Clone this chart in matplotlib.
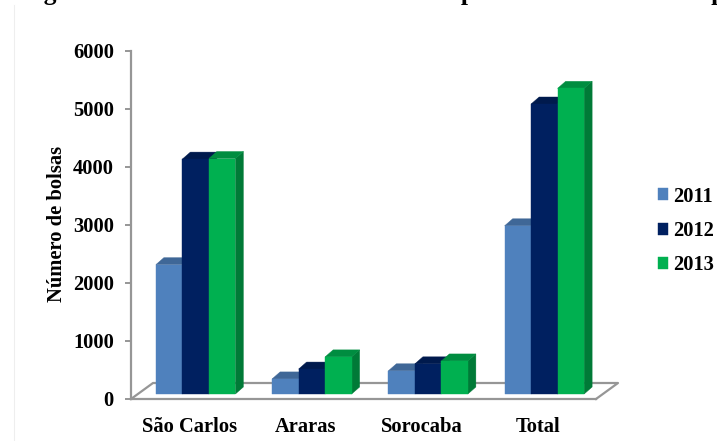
import numpy as np
import matplotlib
matplotlib.use("Agg")
import matplotlib.pyplot as plt
from matplotlib.patches import Polygon

# Bolsas por campus e ano
campus = ["São Carlos", "Araras", "Sorocaba", "Total"]
anos = ["2011", "2012", "2013"]
bolsas_2011 = [2230, 260, 400, 2900]
bolsas_2012 = [4050, 430, 520, 5000]
bolsas_2013 = [4060, 640, 570, 5270]
yticks = [0, 1000, 2000, 3000, 4000, 5000, 6000]

front = ["#4F81BD", "#002060", "#00B050"]
top = ["#3F6797", "#001A4D", "#008D40"]
side = ["#3F6797", "#001A4D", "#007A37"]
gray = "#969696"

W, H = 717, 441
plt.rcParams["font.family"] = ["Liberation Serif", "DejaVu Serif"]
plt.rcParams["font.weight"] = "bold"

fig = plt.figure(figsize=(W / 100, H / 100), dpi=100)
x0, x1, y0, y1 = 131, 596, 399, 51
ax = fig.add_axes([x0 / W, 1 - y0 / H, (x1 - x0) / W, (y0 - y1) / H])
ax.set_xlim(0, 4)
ax.set_ylim(0, 6000)

# pixel sizes expressed in data units
px = 4 / (x1 - x0)
py = 6000 / (y0 - y1)
bar_w = 26.5 * px
shift = 6.5 * px
base = 5 * py
dx, dy = 8 * px, 7 * py

# floor of the 3d box
floor_x, floor_y = 22 * px, 16 * py
ax.plot([0, floor_x, 4 + floor_x, 4], [0, floor_y, floor_y, 0], color=gray,
        lw=1.6, clip_on=False, zorder=1)

centers = np.arange(4) + 0.5
for j, vals in enumerate([bolsas_2011, bolsas_2012, bolsas_2013]):
    xs = centers + shift + (j - 1) * bar_w
    for x, v in zip(xs, vals):
        l, r, b, t = x - bar_w / 2, x + bar_w / 2, base, base + v
        ax.add_patch(Polygon([(r, b), (r + dx, b + dy), (r + dx, t + dy), (r, t)],
                             fc=side[j], ec=side[j], lw=0.3, zorder=2 + j))
        ax.add_patch(Polygon([(l, t), (l + dx, t + dy), (r + dx, t + dy), (r, t)],
                             fc=top[j], ec=top[j], lw=0.3, zorder=2 + j))
    ax.bar(xs, vals, bar_w, bottom=base, color=front[j], edgecolor=front[j], lw=0.3,
           label=anos[j], zorder=2 + j)

for s in ["top", "right"]:
    ax.spines[s].set_visible(False)
for s in ["left", "bottom"]:
    ax.spines[s].set_color(gray)
    ax.spines[s].set_linewidth(1.6)

ax.set_yticks(yticks)
ax.set_xticks(centers)
ax.set_xticklabels(campus, fontsize=14.8)
ax.tick_params(axis="x", length=0, pad=13)
ax.tick_params(axis="y", length=4.3, width=1.4, color=gray, pad=8, labelsize=14.8)
ax.set_ylabel("Número de bolsas", fontsize=14.8, fontweight="bold")
ax.yaxis.set_label_coords((67 - x0) / (x1 - x0), 0.504)

fig.legend(loc="center left", bbox_to_anchor=(658 / W, 1 - 231 / H), frameon=False,
           fontsize=14.8, handlelength=0.5, handleheight=0.5, handletextpad=0.25,
           labelspacing=0.7, borderpad=0, borderaxespad=0)

# heading line, cut by the top edge of the figure
fig.text(21 / W, 1.0, "Figura 5 - Número de bolsas concedidas por ano e em cada campus",
         fontsize=18.4, va="baseline", ha="left")

# faint frame line on the left
fig.add_artist(plt.Line2D([13.5 / W, 13.5 / W], [0, 1 - 5 / H], color="#EEEEEE", lw=0.8))

fig.savefig("out.png", dpi=100)
